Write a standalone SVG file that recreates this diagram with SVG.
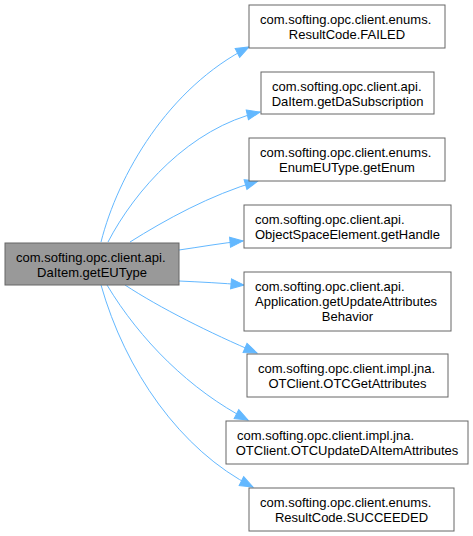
<svg xmlns="http://www.w3.org/2000/svg" width="473" height="536" viewBox="0 0 473 536">
<style>
.n rect{fill:#fff;stroke:#666;stroke-width:1}
.m rect{fill:#999;stroke:#666;stroke-width:1}
text{font-family:"Liberation Sans",Arial,sans-serif;font-size:13px;fill:#000}
.c{text-anchor:middle}
.e path{fill:none;stroke:#63b8ff;stroke-width:1;marker-end:url(#ah)}
</style>
<defs>
<marker id="ah" markerUnits="userSpaceOnUse" markerWidth="14" markerHeight="11" refX="13" refY="5" orient="auto" overflow="visible">
<path d="M0,0 L13,5 L0,10 Z" fill="#63b8ff" stroke="#63b8ff" stroke-width="1"/>
</marker>
</defs>
<g id="edges" class="e">
<path d="M101,242 C118,175 168,88 249,47"/>
<path d="M108,242 C135,190 190,128 260,112"/>
<path d="M130,242 C165,220 210,195 258,181"/>
<path d="M179,250 C200,247 222,243 243,241"/>
<path d="M179,281 C200,282 222,283 244,285"/>
<path d="M125,285 C160,308 210,333 257,353"/>
<path d="M107,285 C140,340 190,390 248,420"/>
<path d="M101,285 C125,370 180,450 253,487"/>
</g>
<g id="main" class="m">
<rect x="5" y="243" width="174" height="42"/>
<text x="16" y="262">com.softing.opc.client.api.</text>
<text class="c" x="92" y="277">DaItem.getEUType</text>
</g>
<g id="n1" class="n">
<rect x="249" y="5" width="196" height="43"/>
<text x="260" y="24">com.softing.opc.client.enums.</text>
<text class="c" x="347" y="39">ResultCode.FAILED</text>
</g>
<g id="n2" class="n">
<rect x="261" y="72" width="173" height="42"/>
<text x="272" y="91">com.softing.opc.client.api.</text>
<text class="c" x="347.5" y="106">DaItem.getDaSubscription</text>
</g>
<g id="n3" class="n">
<rect x="249" y="138" width="196" height="43"/>
<text x="260" y="157">com.softing.opc.client.enums.</text>
<text class="c" x="347" y="172">EnumEUType.getEnum</text>
</g>
<g id="n4" class="n">
<rect x="244" y="205" width="207" height="43"/>
<text x="255" y="224">com.softing.opc.client.api.</text>
<text class="c" x="347.5" y="239">ObjectSpaceElement.getHandle</text>
</g>
<g id="n5" class="n">
<rect x="244" y="272" width="207" height="59"/>
<text x="255" y="291">com.softing.opc.client.api.</text>
<text x="255" y="306">Application.getUpdateAttributes</text>
<text class="c" x="347.5" y="321">Behavior</text>
</g>
<g id="n6" class="n">
<rect x="247" y="354" width="201" height="43"/>
<text x="258" y="373">com.softing.opc.client.impl.jna.</text>
<text class="c" x="347.5" y="388">OTClient.OTCGetAttributes</text>
</g>
<g id="n7" class="n">
<rect x="226" y="421" width="242" height="43"/>
<text x="237" y="440">com.softing.opc.client.impl.jna.</text>
<text class="c" x="347" y="455">OTClient.OTCUpdateDAItemAttributes</text>
</g>
<g id="n8" class="n">
<rect x="249" y="488" width="205" height="43"/>
<text x="260" y="507">com.softing.opc.client.enums.</text>
<text class="c" x="351.5" y="522">ResultCode.SUCCEEDED</text>
</g>
</svg>
